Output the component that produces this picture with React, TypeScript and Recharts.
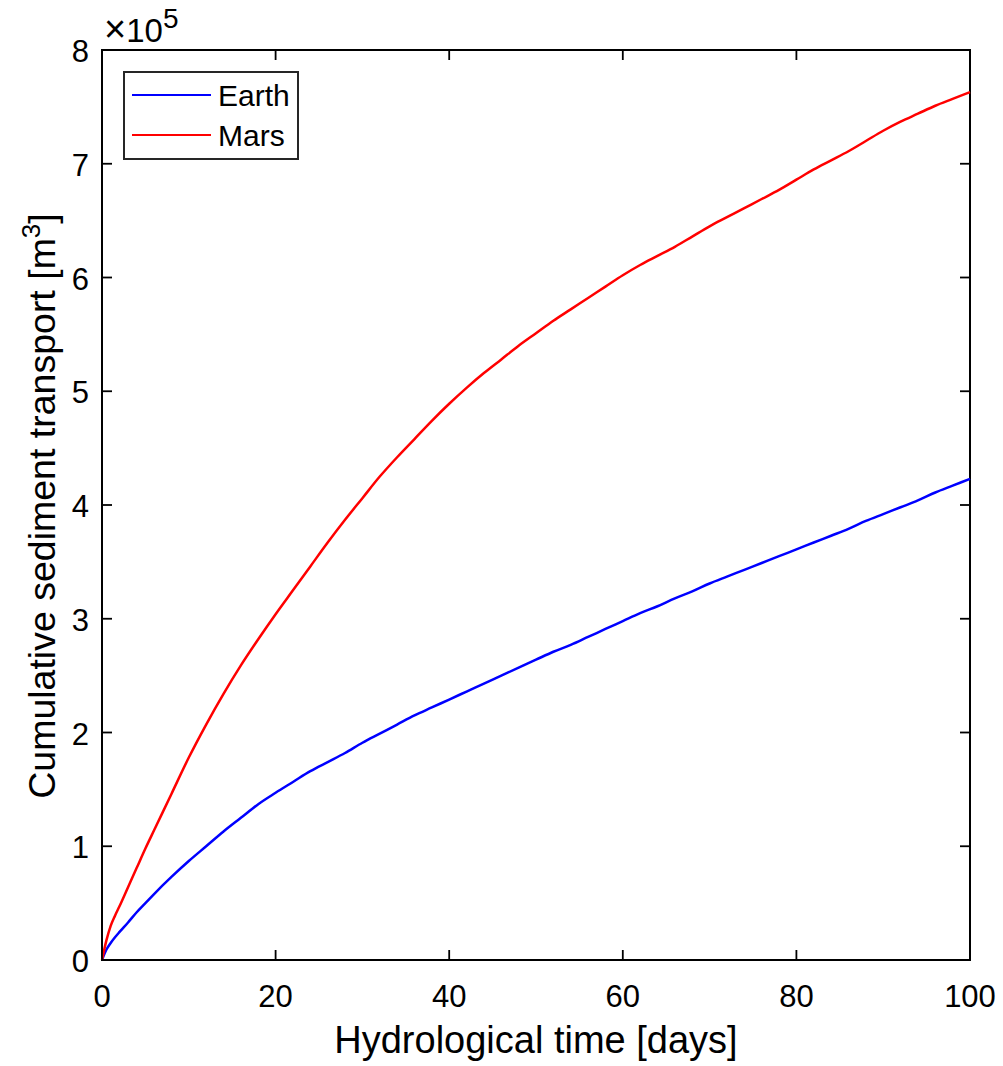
import { LineChart, Line, XAxis, YAxis, Legend, ReferenceArea } from 'recharts';

// hydrological time [days]
const days = [
  0, 0.5, 1, 1.5, 2, 3, 4, 5, 6, 8, 10, 12, 14, 16, 18, 20, 22, 24, 26, 28, 30, 32, 34, 36, 38,
  40, 42, 44, 46, 48, 50, 52, 54, 56, 58, 60, 62, 64, 66, 68, 70, 72, 74, 76, 78, 80, 82, 84,
  86, 88, 90, 92, 94, 96, 98, 100,
];

// cumulative sediment transport, units of 1e5 m^3
const earth = [
  0, 0.09, 0.15, 0.2, 0.245, 0.33, 0.42, 0.5, 0.58, 0.73, 0.87, 1.0, 1.13, 1.25, 1.37, 1.47,
  1.565, 1.66, 1.74, 1.82, 1.91, 1.99, 2.07, 2.15, 2.22, 2.29, 2.36, 2.43, 2.5, 2.57, 2.64,
  2.71, 2.77, 2.84, 2.91, 2.98, 3.05, 3.11, 3.18, 3.24, 3.31, 3.37, 3.43, 3.49, 3.55, 3.61,
  3.67, 3.73, 3.79, 3.86, 3.92, 3.98, 4.04, 4.11, 4.17, 4.23,
];

const mars = [
  0, 0.17, 0.3, 0.39, 0.47, 0.64, 0.81, 0.98, 1.14, 1.46, 1.78, 2.07, 2.34, 2.59, 2.82, 3.04,
  3.25, 3.46, 3.67, 3.87, 4.06, 4.25, 4.42, 4.58, 4.74, 4.89, 5.03, 5.16, 5.28, 5.4, 5.51,
  5.62, 5.72, 5.82, 5.92, 6.02, 6.11, 6.19, 6.27, 6.36, 6.45, 6.53, 6.61, 6.69, 6.77, 6.86,
  6.95, 7.03, 7.11, 7.2, 7.29, 7.37, 7.44, 7.51, 7.57, 7.63,
];

const xTicks = [0, 20, 40, 60, 80, 100];
const yTicks = [0, 1, 2, 3, 4, 5, 6, 7, 8];

const data = days.map((t, i) => ({ t, earth: earth[i], mars: mars[i] }));

const W = 1003;
const H = 1066;
const PLOT_LEFT = 102;
const PLOT_TOP = 50;
const PLOT_RIGHT = 970;
const PLOT_BOTTOM = 960;
const TICK = 10;
const FONT = '"Liberation Sans", Arial, Helvetica, sans-serif';

function XTick(props: any) {
  const { x, y, payload } = props;
  return (
    <g>
      <line x1={x} x2={x} y1={y} y2={y - TICK} stroke="#000" strokeWidth={1.8} />
      <line x1={x} x2={x} y1={PLOT_TOP} y2={PLOT_TOP + TICK} stroke="#000" strokeWidth={1.8} />
      <text x={x} y={y + 47} textAnchor="middle" fontSize={31} fill="#000">
        {payload.value}
      </text>
    </g>
  );
}

function YTick(props: any) {
  const { x, y, payload } = props;
  return (
    <g>
      <line x1={x} x2={x + TICK} y1={y} y2={y} stroke="#000" strokeWidth={1.8} />
      <line x1={PLOT_RIGHT} x2={PLOT_RIGHT - TICK} y1={y} y2={y} stroke="#000" strokeWidth={1.8} />
      <text x={x - 13} y={y + 12} textAnchor="end" fontSize={31} fill="#000">
        {payload.value}
      </text>
    </g>
  );
}

function LegendBox({ payload }: any) {
  return (
    <svg width={176} height={89} style={{ display: 'block' }}>
      <rect x={1} y={1} width={174} height={87} fill="#fff" stroke="#262626" strokeWidth={2} />
      {(payload || []).map((p: any, i: number) => (
        <g key={p.value}>
          <line x1={9} x2={88} y1={24 + 40 * i} y2={24 + 40 * i} stroke={p.color} strokeWidth={2} />
          <text x={95} y={35 + 40 * i} fontSize={30} fontFamily={FONT} fill="#000">
            {p.value}
          </text>
        </g>
      ))}
    </svg>
  );
}

const yLabel = () => (
  <g>
    <text
      transform="translate(55,506) rotate(-90)"
      textAnchor="middle"
      fontSize={37.5}
      fill="#000"
    >
      Cumulative sediment transport [m<tspan dy={-15} fontSize={26}>3</tspan>
      <tspan dy={15}>]</tspan>
    </text>
    <text x={104} y={42} fontSize={33} fill="#000">
      <tspan fontSize={38}>×</tspan>10<tspan dy={-14} fontSize={28}>5</tspan>
    </text>
  </g>
);

const xLabel = () => (
  <text x={(PLOT_LEFT + PLOT_RIGHT) / 2} y={1053} textAnchor="middle" fontSize={38} fill="#000">
    Hydrological time [days]
  </text>
);

export default function App() {
  return (
    <div style={{ position: 'absolute', left: 0, top: 0, width: W, height: H, background: '#fff' }}>
      <LineChart
        width={W}
        height={H}
        data={data}
        margin={{ top: PLOT_TOP, right: W - PLOT_RIGHT, bottom: 0, left: 0 }}
        style={{ fontFamily: FONT }}
      >
        <XAxis
          dataKey="t"
          type="number"
          domain={[0, 100]}
          ticks={xTicks}
          height={H - PLOT_BOTTOM}
          tickSize={0}
          tickMargin={0}
          tickLine={false}
          axisLine={false}
          tick={<XTick />}
          label={{ content: xLabel }}
          interval={0}
        />
        <YAxis
          type="number"
          domain={[0, 8]}
          ticks={yTicks}
          width={PLOT_LEFT}
          tickSize={0}
          tickMargin={0}
          tickLine={false}
          axisLine={false}
          tick={<YTick />}
          label={{ content: yLabel }}
          interval={0}
        />
        <ReferenceArea x1={0} x2={100} y1={0} y2={8} fill="none" stroke="#000" strokeWidth={2} />
        <Line
          type="monotone"
          dataKey="earth"
          name="Earth"
          stroke="#0000ff"
          strokeWidth={2.5}
          dot={false}
          isAnimationActive={false}
        />
        <Line
          type="monotone"
          dataKey="mars"
          name="Mars"
          stroke="#ff0000"
          strokeWidth={2.5}
          dot={false}
          isAnimationActive={false}
        />
        <Legend
          layout="vertical"
          align="center"
          verticalAlign="middle"
          content={<LegendBox />}
          wrapperStyle={{ left: 123, top: 71, width: 176, height: 89 }}
        />
      </LineChart>
    </div>
  );
}
